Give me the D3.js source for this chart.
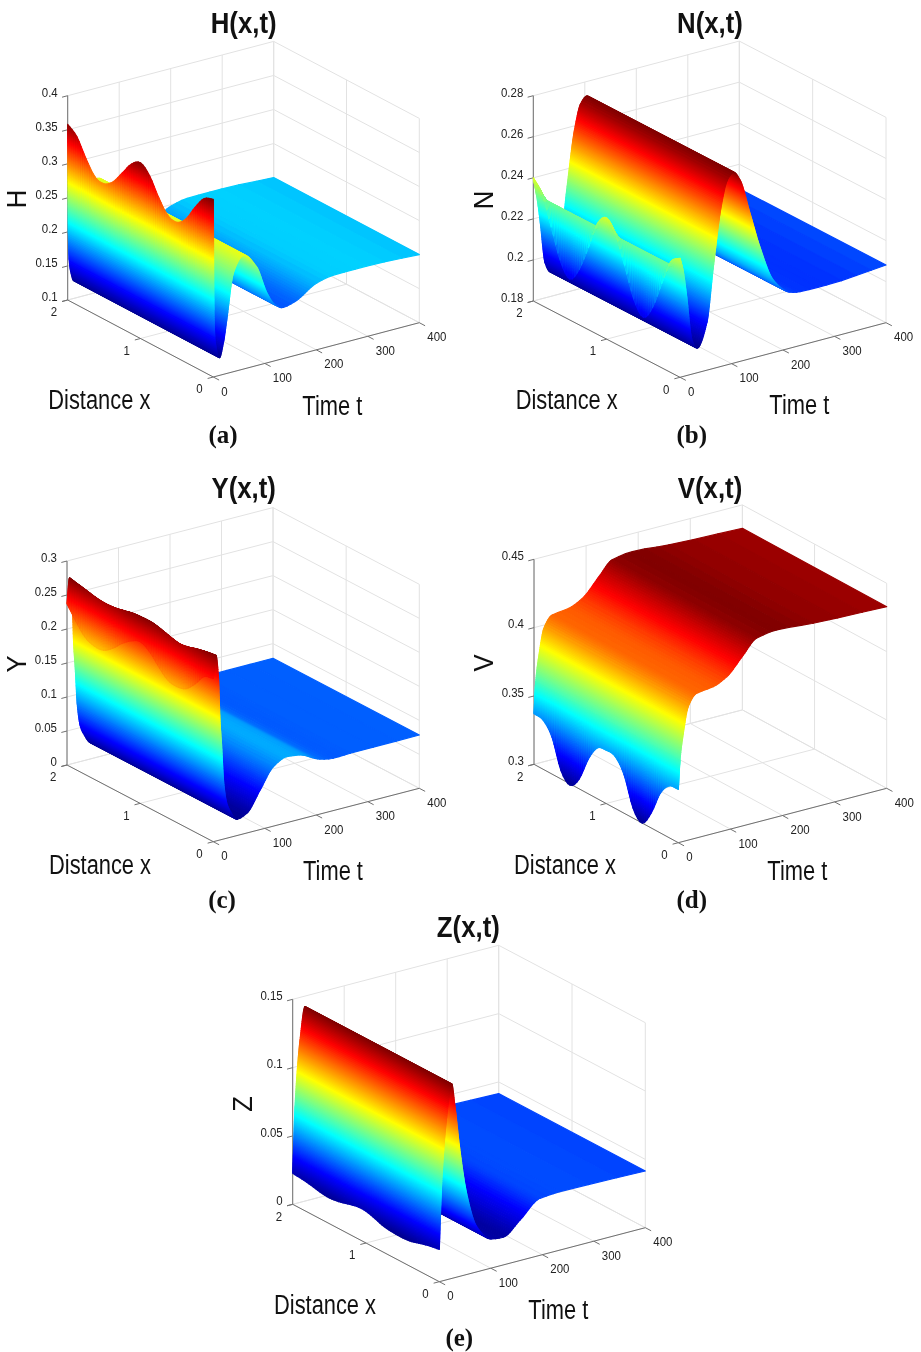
<!DOCTYPE html>
<html>
<head>
<meta charset="utf-8">
<title>H N Y V Z surfaces</title>
<script src="https://cdnjs.cloudflare.com/ajax/libs/d3/7.8.5/d3.min.js"></script>
<style>
    body { margin: 0; background: #fff; }
    svg { display: block; filter: blur(0.4px); }
    text { font-family: "Liberation Sans", Arial, sans-serif; fill: #222; }
</style>
</head>
<body>
<div id="chart"></div>
<script>
// Distance samples shared by every early profile
const xKnots = [0, 0.125, 0.25, 0.375, 0.5, 0.625, 0.75, 0.875, 1, 1.125, 1.25, 1.375, 1.5, 1.625, 1.75, 1.875, 2];
const xTicks = [0, 1, 2];
const tTicks = [0, 100, 200, 300, 400];

// H(x,t): profile over x at the early times, then one level per time (flat in x)
const hEarlyT = [0];
const hEarly = [[0.361, 0.355, 0.335, 0.311, 0.299, 0.302, 0.321, 0.346, 0.358, 0.349, 0.329, 0.309, 0.299, 0.302, 0.322, 0.347, 0.358]];
const hTime = [1.3, 3, 6, 12, 20, 26, 39, 58, 84, 104, 120, 136, 158, 201, 232, 298, 400];
const hLevel = [0.198, 0.158, 0.14, 0.126, 0.148, 0.178, 0.245, 0.267, 0.245, 0.203, 0.182, 0.175, 0.179, 0.198, 0.203, 0.2035, 0.2];
const hTicks = [0.1, 0.15, 0.2, 0.25, 0.3, 0.35, 0.4];

// N(x,t)
const nEarlyT = [0];
const nEarly = [[0.238, 0.234, 0.221, 0.207, 0.2, 0.206, 0.22, 0.233, 0.239, 0.234, 0.22, 0.207, 0.2, 0.206, 0.22, 0.234, 0.24]];
const nTime = [6.4, 13, 23, 33.6, 52, 65, 80, 92, 103.5, 116.5, 136, 155, 181, 213.6, 233, 285, 400];
const nLevel = [0.231, 0.2186, 0.197, 0.192, 0.203, 0.23, 0.258, 0.27, 0.273, 0.2684, 0.2508, 0.2333, 0.2154, 0.2073, 0.2062, 0.206, 0.2081];
const nTicks = [0.18, 0.2, 0.22, 0.24, 0.26, 0.28];

// Y(x,t)
const yEarlyT = [0, 5];
const yEarly = [
    [0.24, 0.236, 0.218, 0.204, 0.2, 0.203, 0.216, 0.231, 0.238, 0.232, 0.221, 0.207, 0.197, 0.196, 0.202, 0.218, 0.237],
    [0.273, 0.271, 0.268, 0.264, 0.262, 0.265, 0.269, 0.272, 0.272, 0.271, 0.268, 0.265, 0.264, 0.265, 0.268, 0.271, 0.274]
];
const yTime = [10, 13, 16, 20, 26, 32, 47, 65, 91, 116.5, 142.5, 168, 207, 233, 266, 400];
const yLevel = [0.24, 0.175, 0.14, 0.085, 0.052, 0.04, 0.0237, 0.029, 0.0582, 0.0873, 0.097, 0.0945, 0.0809, 0.077, 0.0778, 0.0784];
const yTicks = [0, 0.05, 0.1, 0.15, 0.2, 0.25, 0.3];

// V(x,t)
const vEarlyT = [0];
const vEarly = [[0.339, 0.338, 0.329, 0.311, 0.3, 0.307, 0.328, 0.338, 0.339, 0.337, 0.325, 0.307, 0.299, 0.306, 0.327, 0.336, 0.337]];
const vTime = [3.3, 9.6, 19, 35, 67, 93, 125, 150, 189, 259, 400];
const vLevel = [0.3602, 0.3791, 0.3976, 0.4058, 0.4075, 0.4122, 0.425, 0.4347, 0.4369, 0.4348, 0.4329];
const vTicks = [0.3, 0.35, 0.4, 0.45];

// Z(x,t)
const zEarlyT = [0];
const zEarly = [[0.0236, 0.0225, 0.0207, 0.0187, 0.0179, 0.0181, 0.0189, 0.0212, 0.0232, 0.0232, 0.0215, 0.0197, 0.0188, 0.0195, 0.021, 0.022, 0.0227]];
const zTime = [4.6, 14.4, 24, 30.5, 40, 53, 72.6, 101.7, 124, 156.7, 195.5, 234, 400];
const zLevel = [0.0716, 0.1193, 0.1423, 0.125, 0.0924, 0.0594, 0.0331, 0.0212, 0.0203, 0.0296, 0.0417, 0.0427, 0.0415];
const zTicks = [0, 0.05, 0.1, 0.15];

// Box corners on the page (left = x 2, front = x 0, right = t 400) and text positions
const panels = [
    { name: 'H', tag: '(a)', earlyT: hEarlyT, early: hEarly, time: hTime, level: hLevel, ticks: hTicks,
      left: [67.7, 300], top: 95.7, front: [213.3, 377], right: [419.3, 322.7],
      title: [243.7, 23], zLabel: [16.7, 199], xLabel: [99.3, 400], tLabel: [332.3, 405.7], tagPos: [223, 434] },
    { name: 'N', tag: '(b)', earlyT: nEarlyT, early: nEarly, time: nTime, level: nLevel, ticks: nTicks,
      left: [533.3, 301], top: 95.7, front: [680, 377.3], right: [886, 322.7],
      title: [710, 23], zLabel: [483.3, 200], xLabel: [566.7, 400], tLabel: [799.3, 405], tagPos: [691.7, 434] },
    { name: 'Y', tag: '(c)', earlyT: yEarlyT, early: yEarly, time: yTime, level: yLevel, ticks: yTicks,
      left: [67, 765], top: 561, front: [213.3, 841.7], right: [419.3, 788.3],
      title: [243.7, 488], zLabel: [16.7, 664], xLabel: [100, 865], tLabel: [333, 870.7], tagPos: [222, 899] },
    { name: 'V', tag: '(d)', earlyT: vEarlyT, early: vEarly, time: vTime, level: vLevel, ticks: vTicks,
      left: [534, 764.3], top: 559.3, front: [678.3, 842.7], right: [886.7, 788.3],
      title: [710, 488], zLabel: [483.3, 663], xLabel: [565, 865], tLabel: [797.3, 870.7], tagPos: [691.7, 899] },
    { name: 'Z', tag: '(e)', earlyT: zEarlyT, early: zEarly, time: zTime, level: zLevel, ticks: zTicks,
      left: [292.7, 1204.3], top: 999.3, front: [439.3, 1281.7], right: [645.3, 1227.7],
      title: [468.3, 926.7], zLabel: [242.7, 1104], xLabel: [325, 1305], tLabel: [558.3, 1310], tagPos: [459.3, 1337] }
];

// Matlab jet colormap
const jet = d3.scaleLinear()
    .domain([0, 0.125, 0.375, 0.625, 0.875, 1])
    .range(['#00008f', '#0000ff', '#00ffff', '#ffff00', '#ff0000', '#800000']);

const svg = d3.select('#chart').append('svg')
    .attr('width', 921)
    .attr('height', 1352);

// Cubic through the read values. Monotone tangents along t (steep drops must not
// overshoot), plain central differences along x so the waves stay round
function cubic(xs, ys, isMonotone) {
    const n = xs.length;
    const h = d3.range(n - 1).map(i => xs[i + 1] - xs[i]);
    const s = h.map((d, i) => (ys[i + 1] - ys[i]) / d);
    const m = xs.map((_, i) => {
        if (i === 0) return s[0];
        if (i === n - 1) return s[n - 2];
        if (!isMonotone) return (ys[i + 1] - ys[i - 1]) / (xs[i + 1] - xs[i - 1]);
        if (s[i - 1] * s[i] <= 0) return 0;
        const w1 = 2 * h[i] + h[i - 1];
        const w2 = h[i] + 2 * h[i - 1];
        return (w1 + w2) / (w1 / s[i - 1] + w2 / s[i]);
    });
    const bisect = d3.bisector(d => d).right;
    return v => {
        const i = Math.max(0, Math.min(n - 2, bisect(xs, v) - 1));
        const u = (v - xs[i]) / h[i];
        const u2 = u * u;
        const u3 = u2 * u;
        return (2 * u3 - 3 * u2 + 1) * ys[i] + (u3 - 2 * u2 + u) * h[i] * m[i]
            + (-2 * u3 + 3 * u2) * ys[i + 1] + (u3 - u2) * h[i] * m[i + 1];
    };
}

// Text with horizontal squeeze, the reference font is narrower than Liberation
function label(g, str, pos, size, squeeze, opts = {}) {
    const rot = opts.rotate ? ` rotate(${opts.rotate})` : '';
    return g.append('text')
        .attr('transform', `translate(${pos[0]},${pos[1]})${rot} scale(${squeeze},1)`)
        .attr('text-anchor', opts.anchor || 'middle')
        .attr('dominant-baseline', 'central')
        .attr('font-size', size)
        .attr('font-weight', opts.weight || 'normal')
        .style('font-family', opts.family || null)
        .style('fill', opts.fill || null)
        .text(str);
}

function drawPanel(p) {
    const g = svg.append('g');
    const zDomain = d3.extent(p.ticks);

    // Projection: screen position = x part + t part + z part
    const xPx = d3.scaleLinear().domain([0, 2]).range([0, p.left[0] - p.front[0]]);
    const xPy = d3.scaleLinear().domain([0, 2]).range([0, p.left[1] - p.front[1]]);
    const tPx = d3.scaleLinear().domain([0, 400]).range([0, p.right[0] - p.front[0]]);
    const tPy = d3.scaleLinear().domain([0, 400]).range([0, p.right[1] - p.front[1]]);
    const zPy = d3.scaleLinear().domain(zDomain).range([0, p.top - p.left[1]]);
    const project = (x, t, z) => [
        p.front[0] + xPx(x) + tPx(t),
        p.front[1] + xPy(x) + tPy(t) + zPy(z)
    ];
    const line = (a, b, color) => g.append('line')
        .attr('x1', a[0]).attr('y1', a[1])
        .attr('x2', b[0]).attr('y2', b[1])
        .attr('stroke', color)
        .attr('stroke-width', 1);

    const [zMin, zMax] = zDomain;
    const gridColor = '#e2e2e2';
    const axisColor = '#707070';

    // Back walls and floor grid
    p.ticks.forEach(z => {
        line(project(2, 0, z), project(2, 400, z), gridColor);
        line(project(2, 400, z), project(0, 400, z), gridColor);
    });
    tTicks.forEach(t => {
        line(project(0, t, zMin), project(2, t, zMin), gridColor);
        line(project(2, t, zMin), project(2, t, zMax), gridColor);
    });
    xTicks.forEach(x => {
        line(project(x, 0, zMin), project(x, 400, zMin), gridColor);
        line(project(x, 400, zMin), project(x, 400, zMax), gridColor);
    });

    // Axis lines with their ticks and labels
    line(project(2, 0, zMin), project(2, 0, zMax), axisColor);
    line(project(2, 0, zMin), project(0, 0, zMin), axisColor);
    line(project(0, 0, zMin), project(0, 400, zMin), axisColor);

    p.ticks.forEach(z => {
        const a = project(2, 0, z);
        line(a, project(2, -11, z), axisColor);
        label(g, String(z), [a[0] - 10, a[1] - 3.5], 13.5, 0.85, { anchor: 'end' });
    });
    xTicks.forEach(x => {
        const a = project(x, 0, zMin);
        line(a, project(x, -11, zMin), axisColor);
        label(g, String(x), [a[0] - 13.8, a[1] + 12], 13.5, 0.85);
    });
    tTicks.forEach(t => {
        const a = project(0, t, zMin);
        line(a, project(-0.08, t, zMin), axisColor);
        label(g, String(t), [a[0] + 8, a[1] + 14.3], 13.5, 0.85, { anchor: 'start' });
    });

    // Build the mesh
    const allT = p.earlyT.concat(p.time);
    const flatFrom = p.time[0];
    const xSamples = d3.range(65).map(i => i / 32);
    const earlyFns = p.early.map(row => cubic(xKnots, row, false));
    const seriesAt = xSamples.map(x => cubic(allT, earlyFns.map(f => f(x)).concat(p.level), true));

    const allZ = d3.merge(p.early).concat(p.level);
    const [lo, hi] = d3.extent(allZ);
    const colorOf = z => jet((z - lo) / (hi - lo));

    // Finer t steps where the surface is steep
    const tSamples = [];
    for (let k = 0; k < allT.length - 1; k++) {
        const dz = d3.max(seriesAt, f => Math.abs(f(allT[k + 1]) - f(allT[k])));
        const steps = Math.max(3, Math.min(90, Math.ceil(dz / (hi - lo) * 130)));
        d3.range(steps).forEach(s => tSamples.push(allT[k] + (allT[k + 1] - allT[k]) * s / steps));
    }
    tSamples.push(400);

    // Back to front: t falling, x falling
    const quads = [];
    for (let j = tSamples.length - 2; j >= 0; j--) {
        const t0 = tSamples[j];
        const t1 = tSamples[j + 1];
        if (t0 >= flatFrom) {
            const z0 = seriesAt[0](t0);
            const z1 = seriesAt[0](t1);
            quads.push({
                pts: [project(0, t0, z0), project(2, t0, z0), project(2, t1, z1), project(0, t1, z1)],
                z: (z0 + z1) / 2
            });
        } else {
            for (let i = xSamples.length - 2; i >= 0; i--) {
                const a = seriesAt[i];
                const b = seriesAt[i + 1];
                const za0 = a(t0), za1 = a(t1), zb0 = b(t0), zb1 = b(t1);
                quads.push({
                    pts: [
                        project(xSamples[i], t0, za0), project(xSamples[i + 1], t0, zb0),
                        project(xSamples[i + 1], t1, zb1), project(xSamples[i], t1, za1)
                    ],
                    z: (za0 + za1 + zb0 + zb1) / 4
                });
            }
        }
    }

    // Stroke wide enough that no seam lets the back of the surface through
    g.append('g').selectAll('path')
        .data(quads)
        .join('path')
        .attr('d', d => 'M' + d.pts.map(q => q[0].toFixed(2) + ',' + q[1].toFixed(2)).join('L') + 'Z')
        .attr('fill', d => colorOf(d.z))
        .attr('stroke', d => colorOf(d.z))
        .attr('stroke-width', 1.2)
        .attr('stroke-linejoin', 'round');

    // Titles and axis names
    label(g, p.name + '(x,t)', p.title, 30, 0.86, { weight: 'bold', fill: '#111' });
    label(g, p.name, p.zLabel, 27, 0.95, { rotate: -90, fill: '#111' });
    label(g, 'Distance x', p.xLabel, 27, 0.81, { fill: '#111' });
    label(g, 'Time t', p.tLabel, 27, 0.81, { fill: '#111' });
    label(g, p.tag, p.tagPos, 25, 1, { weight: 'bold', family: '"Liberation Serif", serif', fill: '#111' });
}

panels.forEach(drawPanel);
</script>
</body>
</html>
